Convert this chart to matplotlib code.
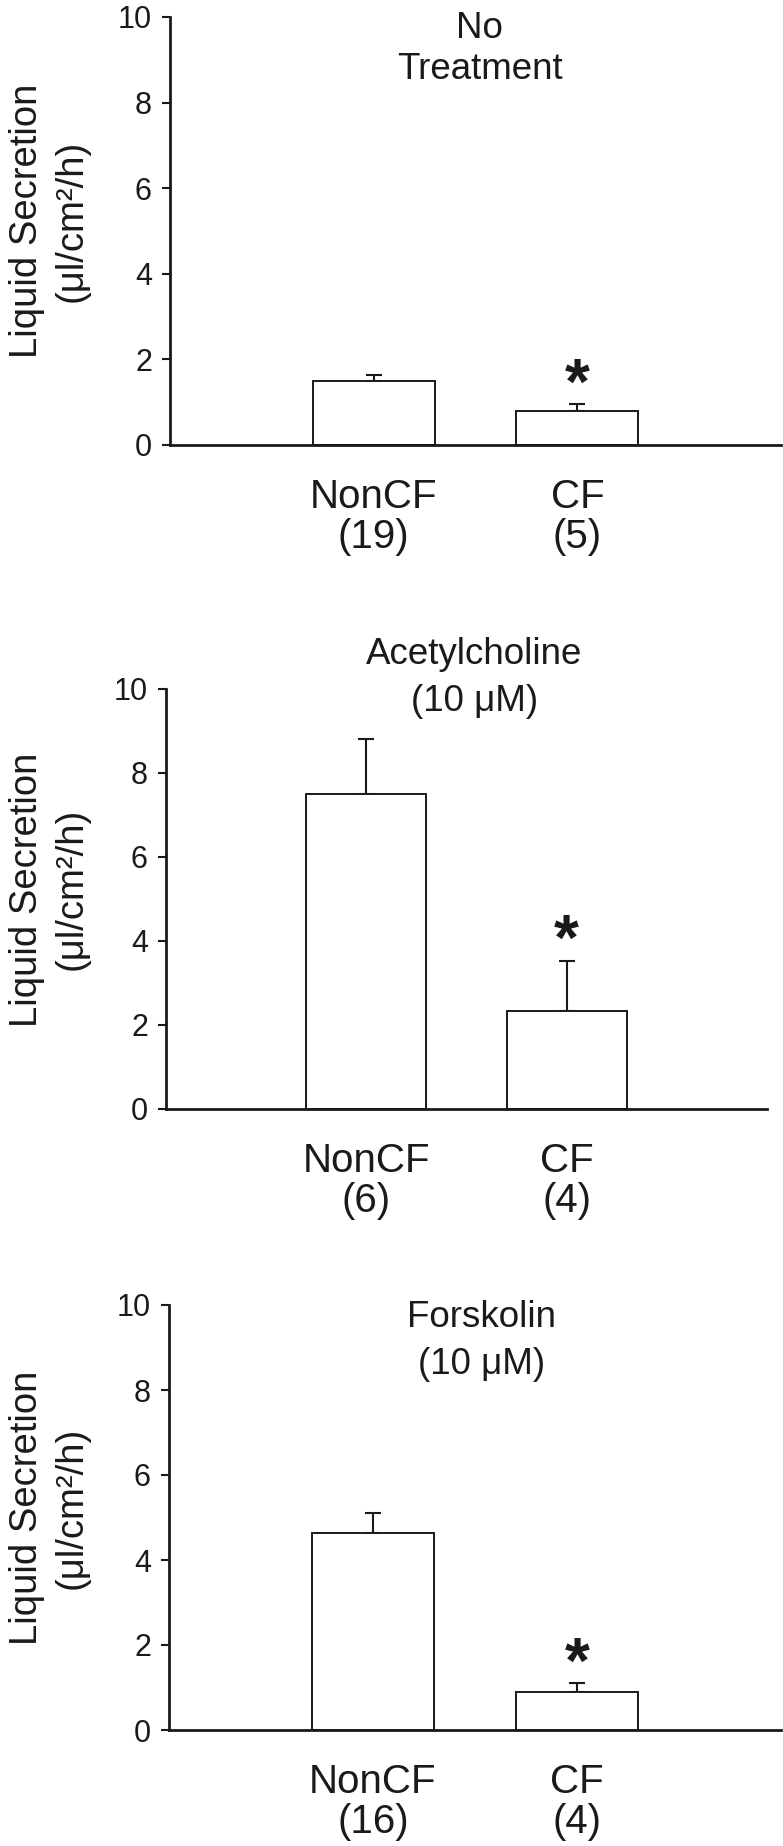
import matplotlib
matplotlib.use("Agg")
import matplotlib.pyplot as plt

plt.rcParams["font.family"] = ["Liberation Sans", "DejaVu Sans"]

# data
groups = ["NonCF", "CF"]
titles = ["No\nTreatment", "Acetylcholine\n(10 μM)", "Forskolin\n(10 μM)"]
n_counts = [[19, 5], [6, 4], [16, 4]]
means = [[1.50, 0.80], [7.50, 2.33], [4.63, 0.90]]
sems = [[0.13, 0.15], [1.30, 1.20], [0.48, 0.20]]
signif = [[False, True], [False, True], [False, True]]
yticks = [0, 2, 4, 6, 8, 10]
ylabel = "Liquid Secretion\n(μl/cm²/h)"

W, H = 783, 1846
fig = plt.figure(figsize=(W / 100, H / 100), dpi=100)

# axes boxes in pixels: left, top, right, bottom
boxes = [(170, 17, 781, 445), (166, 689, 767, 1109), (169, 1305, 781, 1730)]
title_pos = [(1.52, 9.25), (1.54, 10.27), (1.53, 9.15)]
title_spacing = [1.2, 1.45, 1.45]

for i, (l, t, r, b) in enumerate(boxes):
    ax = fig.add_axes([l / W, (H - b) / H, (r - l) / W, (b - t) / H])
    x = [1, 2]
    ax.bar(x, means[i], width=0.6, color="white", edgecolor="#1a1a1a",
           linewidth=1.4, zorder=2)
    ax.errorbar(x, means[i], yerr=[[0, 0], sems[i]], fmt="none",
                ecolor="#1a1a1a", elinewidth=1.5, capsize=5.5, capthick=1.5,
                zorder=1)
    for j in range(2):
        if signif[i][j]:
            top = means[i][j] + sems[i][j]
            ax.text(x[j], top + 0.02, "*", ha="center", va="baseline",
                    fontsize=46, fontweight="bold", color="#1a1a1a")

    ax.set_xlim(0, 3)
    ax.set_ylim(0, 10)
    ax.set_yticks(yticks)
    ax.set_yticklabels([str(v) for v in yticks], fontsize=22, color="#1a1a1a")
    ax.set_xticks(x)
    ax.set_xticklabels([f"{g}\n({n})" for g, n in zip(groups, n_counts[i])],
                       fontsize=29, linespacing=1.05, color="#1a1a1a")
    ax.tick_params(axis="x", length=0, pad=24)
    ax.tick_params(axis="y", direction="out", length=6, width=1.5, pad=7,
                   color="#1a1a1a")
    for s in ["top", "right"]:
        ax.spines[s].set_visible(False)
    for s in ["left", "bottom"]:
        ax.spines[s].set_linewidth(2)
        ax.spines[s].set_color("#1a1a1a")
    ax.spines["left"].set_zorder(3)
    ax.spines["bottom"].set_zorder(3)

    ax.set_ylabel(ylabel, fontsize=27.5, linespacing=1.3, va="center",
                  color="#1a1a1a")
    ax.yaxis.set_label_coords((49 - l) / (r - l), 0.523)

    tx, ty = title_pos[i]
    ax.text(tx, ty, titles[i], ha="center", va="center", fontsize=26.5,
            linespacing=title_spacing[i], color="#1a1a1a", clip_on=False)

fig.savefig("out.png", dpi=100, facecolor="white")
